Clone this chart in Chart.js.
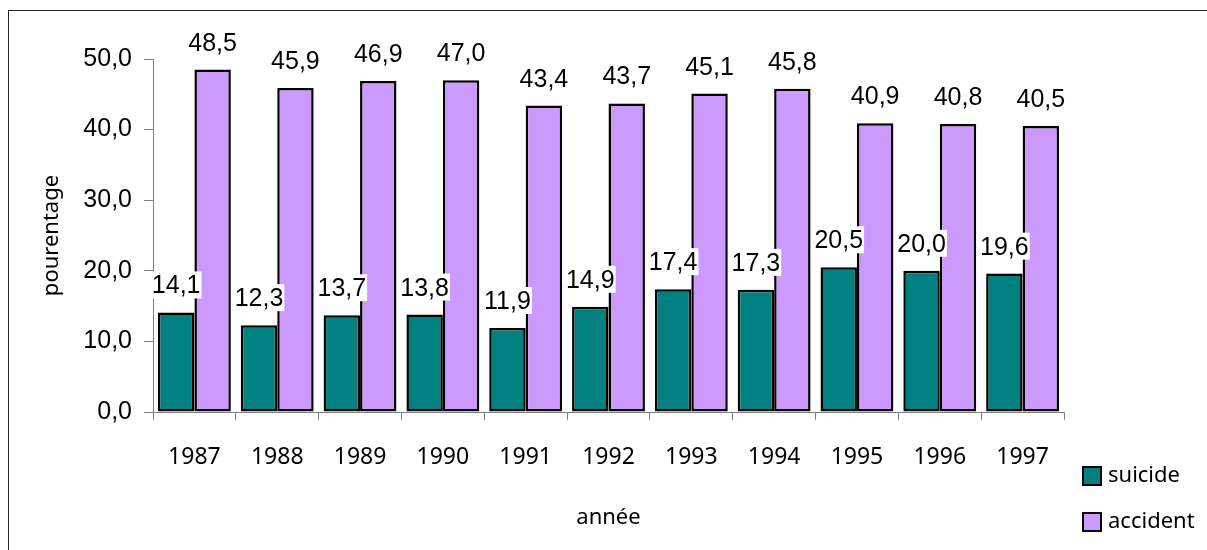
<!DOCTYPE html>
<html>
<head>
<meta charset="utf-8">
<script src="https://cdn.jsdelivr.net/npm/chart.js@4/dist/chart.umd.min.js"></script>
<style>
  html, body { margin: 0; padding: 0; background: #fff; }
  #wrap { width: 1207px; height: 550px; position: relative; }
</style>
</head>
<body>
<div id="wrap"><canvas id="c" width="1207" height="550"></canvas></div>
<script>
const years = ['1987','1988','1989','1990','1991','1992','1993','1994','1995','1996','1997'];
const suicideValues = [14.1, 12.3, 13.7, 13.8, 11.9, 14.9, 17.4, 17.3, 20.5, 20.0, 19.6];
const accidentValues = [48.5, 45.9, 46.9, 47.0, 43.4, 43.7, 45.1, 45.8, 40.9, 40.8, 40.5];
const seriesNames = ['suicide', 'accident'];
const yTicks = [0, 10, 20, 30, 40, 50];

const NUM_FONT = '"Liberation Sans", Arial, sans-serif';
const TXT_FONT = '"Noto Sans", "DejaVu Sans", sans-serif';
const fmt = v => v.toFixed(1).replace('.', ',');

const borderPlugin = {
  id: 'outerBorder',
  beforeDraw(chart) {
    const ctx = chart.ctx;
    ctx.save();
    ctx.fillStyle = '#fff';
    ctx.fillRect(0, 0, chart.width, chart.height);
    ctx.strokeStyle = '#222';
    ctx.lineWidth = 1;
    ctx.strokeRect(8.5, 10.5, chart.width + 20, chart.height + 20);
    ctx.restore();
  }
};

const labelPlugin = {
  id: 'valueLabels',
  afterDatasetDraw(chart, args) {
    const ctx = chart.ctx;
    const meta = args.meta;
    const ds = chart.data.datasets[args.index];
    ctx.save();
    ctx.font = '25px ' + NUM_FONT;
    ctx.textAlign = 'center';
    ctx.textBaseline = 'alphabetic';
    meta.data.forEach((bar, i) => {
      const txt = fmt(ds.data[i]);
      const x = bar.x;
      const y = bar.y - 19;
      const w = ctx.measureText(txt).width;
      if (args.index === 0) {
        ctx.fillStyle = '#fff';
        ctx.fillRect(x - w / 2 - 1, y - 22, w + 2, 27);
      }
      ctx.fillStyle = '#000';
      ctx.fillText(txt, x, y);
    });
    ctx.restore();
  }
};

const legendPlugin = {
  id: 'customLegend',
  afterDraw(chart) {
    const ctx = chart.ctx;
    ctx.save();
    ctx.font = '22px ' + TXT_FONT;
    ctx.textBaseline = 'middle';
    ctx.textAlign = 'left';
    chart.data.datasets.forEach((ds, i) => {
      const bx = 1083, by = 467 + i * 46;
      ctx.fillStyle = ds.backgroundColor;
      ctx.fillRect(bx, by, 18, 18);
      ctx.strokeStyle = '#000';
      ctx.lineWidth = 2;
      ctx.strokeRect(bx, by, 18, 18);
      ctx.fillStyle = '#000';
      ctx.fillText(ds.label, 1108, by + 9);
    });
    ctx.restore();
  }
};

new Chart(document.getElementById('c'), {
  type: 'bar',
  data: {
    labels: years,
    datasets: [
      { label: seriesNames[0], data: suicideValues, backgroundColor: '#008080', borderColor: '#000', borderWidth: 2.5, borderSkipped: false },
      { label: seriesNames[1], data: accidentValues, backgroundColor: '#CC99FF', borderColor: '#000', borderWidth: 2.5, borderSkipped: false }
    ]
  },
  options: {
    responsive: false,
    animation: false,
    devicePixelRatio: 1,
    layout: { padding: { left: 9, top: 59, right: 143, bottom: 0 } },
    datasets: { bar: { categoryPercentage: 0.88, barPercentage: 1.0 } },
    plugins: { legend: { display: false }, tooltip: { enabled: false } },
    scales: {
      x: {
        afterFit(scale) { scale.height = 138; },
        grid: { drawOnChartArea: false, drawTicks: true, tickLength: 8, color: '#808080', offset: true },
        border: { color: '#808080', width: 1 },
        ticks: { color: '#000', font: { family: TXT_FONT, size: 23 }, padding: 24, maxRotation: 0 },
        title: { display: true, text: 'année', color: '#000', font: { family: TXT_FONT, size: 22 }, padding: { bottom: 19 } }
      },
      y: {
        min: 0, max: 50,
        afterFit(scale) { scale.width = 144; },
        afterBuildTicks(scale) { scale.ticks = yTicks.map(v => ({ value: v })); },
        grid: { drawOnChartArea: false, drawTicks: true, tickLength: 9, color: '#808080' },
        border: { color: '#808080', width: 1 },
        ticks: { color: '#000', font: { family: NUM_FONT, size: 25 }, padding: 12, callback: v => fmt(v) },
        title: { display: true, text: 'pourentage', color: '#000', font: { family: TXT_FONT, size: 22 }, padding: { top: 30 } }
      }
    }
  },
  plugins: [borderPlugin, labelPlugin, legendPlugin]
});
</script>
</body>
</html>
